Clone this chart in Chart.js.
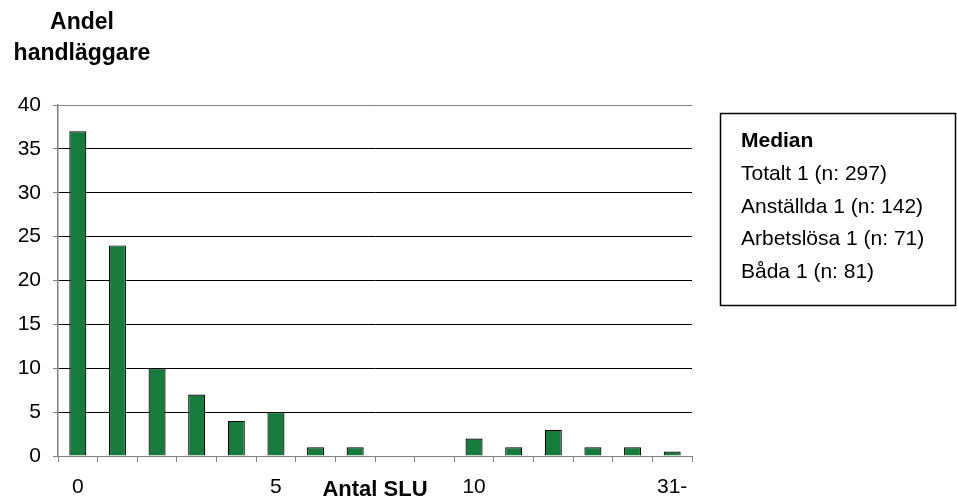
<!DOCTYPE html>
<html>
<head>
<meta charset="utf-8">
<script src="https://cdn.jsdelivr.net/npm/chart.js@4/dist/chart.umd.min.js"></script>
<style>
  html, body { margin: 0; padding: 0; background: #fff; }
  #wrap { position: relative; width: 957px; height: 499px; }
</style>
</head>
<body>
<div id="wrap"><canvas id="sluChart"></canvas></div>
<script>
// kategorier (antal SLU) och andel handläggare i procent
const categories = ['0', '1', '2', '3', '4', '5', '6', '7', '8', '9', '10', '11', '12', '13', '14', '31-'];
const shares = [37, 24, 10, 7, 4, 5, 1, 1, null, null, 2, 1, 3, 1, 1, 0.5];
const shownTicks = ['0', '5', '10', '31-'];
const yTicks = [0, 5, 10, 15, 20, 25, 30, 35, 40];

const titleLines = ['Andel', 'handläggare'];
const xTitle = 'Antal SLU';
const medianTitle = 'Median';
const medianLines = ['Totalt 1 (n: 297)', 'Anställda 1 (n: 142)', 'Arbetslösa 1 (n: 71)', 'Båda 1 (n: 81)'];

const FONT = '"Liberation Sans", Arial, sans-serif';

const extrasPlugin = {
  id: 'extras',
  afterDraw(chart) {
    const ctx = chart.ctx;
    ctx.save();
    ctx.fillStyle = '#000';
    // y-axelns rubrik
    ctx.font = 'bold 23px ' + FONT;
    ctx.textAlign = 'center';
    ctx.textBaseline = 'alphabetic';
    ctx.fillText(titleLines[0], 82, 29);
    ctx.fillText(titleLines[1], 82, 60);
    // x-axelns rubrik
    ctx.font = 'bold 22px ' + FONT;
    ctx.fillText(xTitle, 375, 496);
    // medianruta
    ctx.strokeStyle = '#000';
    ctx.lineWidth = 1.5;
    ctx.strokeRect(720.5, 113.5, 235, 192);
    ctx.textAlign = 'left';
    ctx.font = 'bold 21px ' + FONT;
    ctx.fillText(medianTitle, 741, 147);
    ctx.font = '21px ' + FONT;
    medianLines.forEach(function(s, i) {
      ctx.fillText(s, 741, 180 + i * 32.5);
    });
    ctx.restore();
  }
};

new Chart(document.getElementById('sluChart'), {
  type: 'bar',
  data: {
    labels: categories,
    datasets: [{
      data: shares,
      backgroundColor: '#177b3e',
      borderColor: '#000',
      borderWidth: 1.2,
      barPercentage: 0.43,
      categoryPercentage: 1.0,
    }]
  },
  plugins: [extrasPlugin],
  options: {
    responsive: true,
    maintainAspectRatio: false,
    animation: false,
    layout: { padding: { top: 105, right: 265, left: 0, bottom: 0 } },
    plugins: { legend: { display: false }, tooltip: { enabled: false } },
    scales: {
      x: {
        afterFit: function(s) { s.height = 43; },
        grid: { offset: true, drawOnChartArea: false, drawTicks: true, tickLength: 6, tickColor: '#808080' },
        border: { color: '#808080', width: 1 },
        ticks: {
          autoSkip: false, maxRotation: 0, padding: 13,
          color: '#000',
          font: { family: FONT, size: 21 },
          callback: function(v) {
            const l = categories[v];
            return shownTicks.indexOf(l) >= 0 ? l : '';
          }
        }
      },
      y: {
        min: 0, max: 40,
        afterFit: function(s) { s.width = 58; },
        afterBuildTicks: function(s) { s.ticks = yTicks.map(v => ({ value: v })); },
        grid: {
          color: function(c) { return (c.tick && (c.tick.value === 40 || c.tick.value === 0)) ? '#808080' : '#000'; },
          tickLength: 5, tickColor: '#808080'
        },
        border: { color: '#808080', width: 1.5 },
        ticks: { padding: 12, color: '#000', font: { family: FONT, size: 21 } }
      }
    }
  }
});
</script>
</body>
</html>
